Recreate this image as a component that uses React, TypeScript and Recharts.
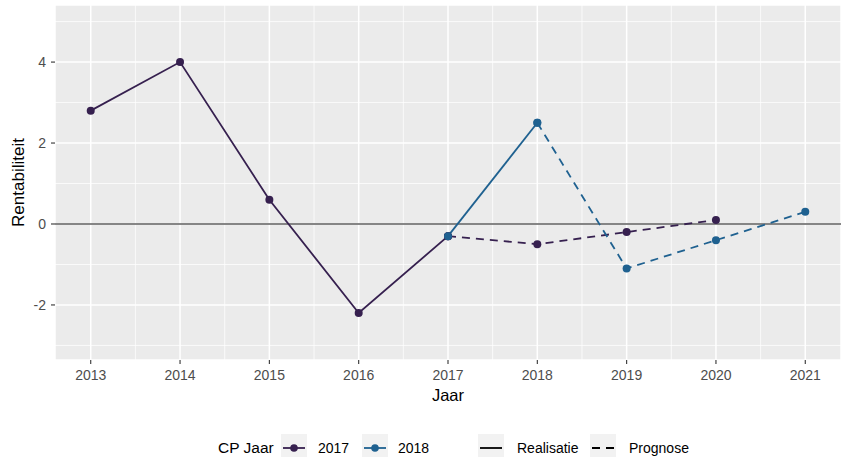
import React from 'react';
import { LineChart, Line, XAxis, YAxis, CartesianGrid, ReferenceLine } from 'recharts';

// Tick labels / axis values
const yearTicks = [2013, 2014, 2015, 2016, 2017, 2018, 2019, 2020, 2021];
const valueTicks = [-2, 0, 2, 4];
const minorYearLines = [2013.5, 2014.5, 2015.5, 2016.5, 2017.5, 2018.5, 2019.5, 2020.5];
const minorValueLines = [-3, -1, 1, 3, 5];

// CP 2017
const real2017Years = [2013, 2014, 2015, 2016, 2017];
const real2017Values = [2.8, 4.0, 0.6, -2.2, -0.3];
const prog2017Years = [2017, 2018, 2019, 2020];
const prog2017Values = [-0.3, -0.5, -0.2, 0.1];

// CP 2018
const real2018Years = [2017, 2018];
const real2018Values = [-0.3, 2.5];
const prog2018Years = [2018, 2019, 2020, 2021];
const prog2018Values = [2.5, -1.1, -0.4, 0.3];

const legendYears = ['2017', '2018'];
const legendTypes = ['Realisatie', 'Prognose'];

const C2017 = '#36204F';
const C2018 = '#1F6190';
const FONT = '"Liberation Sans", Arial, Helvetica, sans-serif';
const LW = 1.8;

const toPoints = (xs: number[], ys: number[]) => xs.map((x, i) => ({ jaar: x, waarde: ys[i] }));

const real2017 = toPoints(real2017Years, real2017Values);
const prog2017 = toPoints(prog2017Years, prog2017Values);
const real2018 = toPoints(real2018Years, real2018Values);
const prog2018 = toPoints(prog2018Years, prog2018Values);

const dot = (c: string) => ({ r: 4, fill: c, stroke: c, strokeWidth: 0 });

function LegendSvg() {
  const boxW = 26;
  const boxY = 434;
  const lineY = 448;
  const keyX = [281, 362];
  const labelX = [318, 398];
  const typeKeyX = [478, 590];
  const typeLabelX = [517, 629];
  const colors = [C2017, C2018];
  return (
    <svg width={843} height={457} style={{ position: 'absolute', left: 0, top: 0, pointerEvents: 'none' }}>
      <text x={218} y={453} fontFamily={FONT} fontSize={15.5} fill="#000">CP Jaar</text>
      {legendYears.map((lab, i) => (
        <g key={lab}>
          <rect x={keyX[i]} y={boxY} width={boxW} height={28} fill="#F2F2F2" />
          <line x1={keyX[i] + 2} x2={keyX[i] + boxW - 2} y1={lineY} y2={lineY} stroke={colors[i]} strokeWidth={LW} />
          <circle cx={keyX[i] + boxW / 2} cy={lineY} r={3.8} fill={colors[i]} />
          <text x={labelX[i]} y={453} fontFamily={FONT} fontSize={14} fill="#000">{lab}</text>
        </g>
      ))}
      {legendTypes.map((lab, i) => (
        <g key={lab}>
          <rect x={typeKeyX[i]} y={boxY} width={boxW} height={28} fill="#F2F2F2" />
          <line
            x1={typeKeyX[i] + 2}
            x2={typeKeyX[i] + boxW - 2}
            y1={lineY}
            y2={lineY}
            stroke="#000"
            strokeWidth={LW}
            strokeDasharray={i === 1 ? '8 6' : undefined}
          />
          <text x={typeLabelX[i]} y={453} fontFamily={FONT} fontSize={14} fill="#000">{lab}</text>
        </g>
      ))}
    </svg>
  );
}

export default function App() {
  return (
    <div style={{ position: 'absolute', left: 0, top: 0, width: 843, height: 457, background: '#fff', fontFamily: FONT }}>
      <LineChart width={843} height={457} margin={{ top: 5, right: 2, left: 0, bottom: 0 }}>
        <CartesianGrid fill="#EBEBEB" stroke="#FFFFFF" strokeWidth={1.5} strokeDasharray="" />
        {minorYearLines.map((v) => (
          <ReferenceLine key={'mx' + v} x={v} stroke="#FFFFFF" strokeWidth={0.75} zIndex={-90} />
        ))}
        {minorValueLines.map((v) => (
          <ReferenceLine key={'my' + v} y={v} stroke="#FFFFFF" strokeWidth={0.75} zIndex={-90} />
        ))}
        <ReferenceLine y={0} stroke="#5E5E5E" strokeWidth={1.3} zIndex={-80} />
        <XAxis
          type="number"
          dataKey="jaar"
          domain={[2012.6, 2021.4]}
          ticks={yearTicks}
          allowDataOverflow
          height={97}
          axisLine={false}
          tickSize={4}
          tickMargin={6}
          tickLine={{ stroke: '#333333', strokeWidth: 1.1 }}
          tick={{ fill: '#4D4D4D', fontSize: 14, fontFamily: FONT }}
          label={{
            content: (props: any) => {
              const vb = props.viewBox || { x: 55, width: 786 };
              return (
                <text x={vb.x + vb.width / 2} y={401} textAnchor="middle" fontFamily={FONT} fontSize={16.5} fill="#000">
                  Jaar
                </text>
              );
            },
          }}
        />
        <YAxis
          type="number"
          dataKey="waarde"
          domain={[-3.36, 5.41]}
          ticks={valueTicks}
          allowDataOverflow
          width={55}
          axisLine={false}
          tickSize={4}
          tickMargin={5}
          tickLine={{ stroke: '#333333', strokeWidth: 1.1 }}
          tick={{ fill: '#4D4D4D', fontSize: 14, fontFamily: FONT }}
          label={{
            content: (props: any) => {
              const vb = props.viewBox || { y: 5, height: 355 };
              const cy = vb.y + vb.height / 2;
              return (
                <text
                  x={24}
                  y={cy}
                  transform={`rotate(-90 24 ${cy})`}
                  textAnchor="middle"
                  fontFamily={FONT}
                  fontSize={17}
                  fill="#000"
                >
                  Rentabiliteit
                </text>
              );
            },
          }}
        />
        <Line data={real2017} dataKey="waarde" type="linear" stroke={C2017} strokeWidth={LW} dot={dot(C2017)} activeDot={false} isAnimationActive={false} />
        <Line data={prog2017} dataKey="waarde" type="linear" stroke={C2017} strokeWidth={LW} strokeDasharray="8 6" dot={dot(C2017)} activeDot={false} isAnimationActive={false} />
        <Line data={real2018} dataKey="waarde" type="linear" stroke={C2018} strokeWidth={LW} dot={dot(C2018)} activeDot={false} isAnimationActive={false} />
        <Line data={prog2018} dataKey="waarde" type="linear" stroke={C2018} strokeWidth={LW} strokeDasharray="8 6" dot={dot(C2018)} activeDot={false} isAnimationActive={false} />
      </LineChart>
      <LegendSvg />
    </div>
  );
}
